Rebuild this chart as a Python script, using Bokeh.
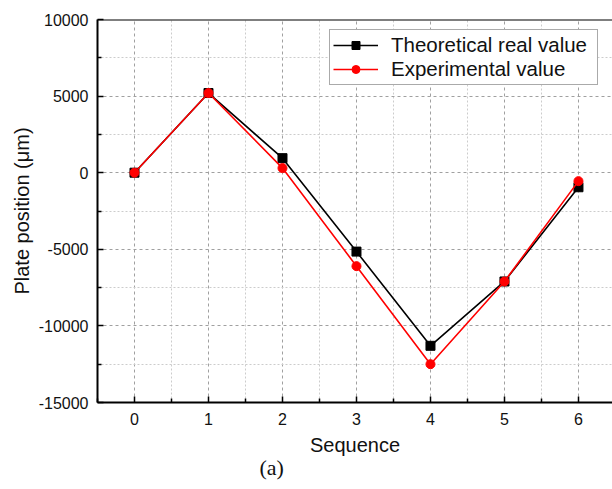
from bokeh.plotting import figure
from bokeh.models import (FixedTicker, Range1d, Title, Legend, LegendItem, Span,
                          PrintfTickFormatter)
from bokeh.embed import file_html
from bokeh.resources import INLINE

# ---- data ----
sequence = [0, 1, 2, 3, 4, 5, 6]
theoretical = [0, 5200, 950, -5150, -11300, -7100, -950]
experimental = [0, 5200, 300, -6100, -12500, -7100, -550]
x_ticks = [0, 1, 2, 3, 4, 5, 6]
x_minor = [-0.5, 0.5, 1.5, 2.5, 3.5, 4.5, 5.5, 6.5]
y_ticks = [-15000, -10000, -5000, 0, 5000, 10000]
y_minor = [-12500, -7500, -2500, 2500, 7500]

FONT = "Liberation Sans"

p = figure(width=612, height=487, output_backend="svg", toolbar_location=None,
           x_range=Range1d(-0.5, 6.46), y_range=Range1d(-15000, 10000),
           min_border_left=97, min_border_right=0, min_border_top=19,
           min_border_bottom=85)
p.outline_line_color = None
p.background_fill_color = "white"
p.border_fill_color = "white"

# axes
for ax in (p.xaxis[0], p.yaxis[0]):
    ax.axis_line_color = "black"
    ax.axis_line_width = 2
    ax.major_tick_in = 6
    ax.major_tick_out = 0
    ax.minor_tick_in = 4
    ax.minor_tick_out = 0
    ax.major_tick_line_width = 1.5
    ax.minor_tick_line_width = 1.5
    ax.major_label_text_font = FONT
    ax.major_label_text_font_size = "16px"
    ax.major_label_text_color = "#111111"
    ax.axis_label_text_font = FONT
    ax.axis_label_text_font_size = "20px"
    ax.axis_label_text_font_style = "normal"
    ax.axis_label_text_color = "#111111"
    ax.formatter = PrintfTickFormatter(format="%d")

p.xaxis.ticker = FixedTicker(ticks=x_ticks, minor_ticks=x_minor)
p.yaxis.ticker = FixedTicker(ticks=y_ticks, minor_ticks=y_minor)
p.xaxis.axis_label = "Sequence"
p.yaxis.axis_label = "Plate position (μm)"
p.xaxis.major_label_standoff = 10
p.xaxis.axis_label_standoff = 6
p.yaxis.major_label_standoff = 9
p.yaxis.axis_label_standoff = 3

# top border
p.add_layout(Span(location=10000, dimension="width", line_color="black", line_width=2))

# grids
p.xgrid.ticker = FixedTicker(ticks=x_ticks, minor_ticks=x_minor)
p.ygrid.ticker = FixedTicker(ticks=y_ticks, minor_ticks=y_minor)
for g in (p.xgrid[0], p.ygrid[0]):
    g.grid_line_color = "#a0a0a0"
    g.grid_line_dash = "3 3"
    g.grid_line_width = 1
    g.minor_grid_line_color = "#cccccc"
    g.minor_grid_line_dash = "2 2"
    g.minor_grid_line_width = 1

# series
l1 = p.line(sequence, theoretical, line_color="black", line_width=1.6)
m1 = p.scatter(sequence, theoretical, marker="square", size=9,
               fill_color="black", line_color="black")
l2 = p.line(sequence, experimental, line_color="red", line_width=1.6)
m2 = p.scatter(sequence, experimental, marker="circle", size=9,
               fill_color="red", line_color="red")

legend = Legend(items=[LegendItem(label="Theoretical real value", renderers=[l1, m1]),
                       LegendItem(label="Experimental value", renderers=[l2, m2])],
                location=(232, 317))
legend.label_text_font = FONT
legend.label_text_font_size = "20.5px"
legend.label_text_color = "#111111"
legend.glyph_width = 45
legend.glyph_height = 20
legend.label_height = 20
legend.label_width = 203
legend.label_standoff = 13
legend.padding = 3
legend.spacing = 0
legend.margin = 0
legend.border_line_color = "#555555"
legend.border_line_width = 1.2
legend.background_fill_alpha = 1
p.add_layout(legend)

# caption
cap = Title(text="(a)", align="left", offset=162, standoff=-12,
            text_font="Liberation Serif",
            text_font_size="22px", text_font_style="normal", text_color="#111111")
p.add_layout(cap, "below")

open("out.html", "w").write(file_html(p, INLINE))
